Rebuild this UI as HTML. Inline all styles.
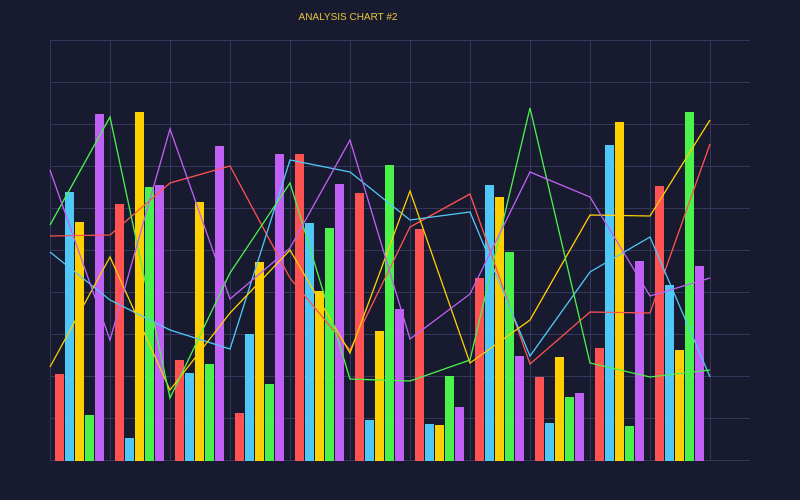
<!DOCTYPE html>
<html><head><style>
body{margin:0;background:#181a30;}
svg{display:block}
</style></head><body>
<svg width="800" height="500" xmlns="http://www.w3.org/2000/svg">
<rect width="800" height="500" fill="#181a30"/>
<text x="348" y="20" text-anchor="middle" font-family="Liberation Sans, sans-serif" font-size="10" fill="#e6c43a">ANALYSIS CHART #2</text>
<g stroke="#34375a" stroke-width="1" fill="none" id="grid"></g>
<g id="bars"></g>
<g id="lines" fill="none" stroke-width="1.3"></g>
<script>
var ns="http://www.w3.org/2000/svg",g=document.getElementById('grid');
function el(p,t,a){var e=document.createElementNS(ns,t);for(var k in a)e.setAttribute(k,a[k]);p.appendChild(e);}
for(var i=0;i<=11;i++)el(g,'line',{x1:50+60*i+.5,x2:50+60*i+.5,y1:40,y2:460});
for(var j=0;j<=10;j++)el(g,'line',{x1:50,x2:750,y1:40+42*j+.5,y2:40+42*j+.5});
var cols=['#ff5252','#4fc8f7','#ffd000','#4cf24c','#c060f5'];
var bars=[[374,192,222,415,114],[204,438,112,187,185],[360,373,202,364,146],[413,334,262,384,154],[154,223,291,228,184],[193,420,331,165,309],[229,424,425,376,407],[278,185,197,252,356],[377,423,357,397,393],[348,145,122,426,261],[186,285,350,112,266]];
var b=document.getElementById('bars');
bars.forEach(function(r,gi){r.forEach(function(y,i){el(b,'rect',{x:55+60*gi+10*i,y:y,width:9,height:461-y,fill:cols[i]});});});
var lines=[[236,235,183,166,278,350,227,194,364,312,313,144],[252,300,330,349,160,172,220,212,356,272,237,377],[367,257,390,313,250,353,191,363,320,215,216,120],[225,117,398,273,183,379,381,360,108,363,377,370],[170,340,129,299,248,140,339,294,172,197,296,278]];
var L=document.getElementById('lines');
lines.forEach(function(r,i){el(L,'polyline',{points:r.map(function(y,k){return (50+60*k)+','+y}).join(' '),stroke:cols[i]});});
</script>
</svg>
</body></html>
